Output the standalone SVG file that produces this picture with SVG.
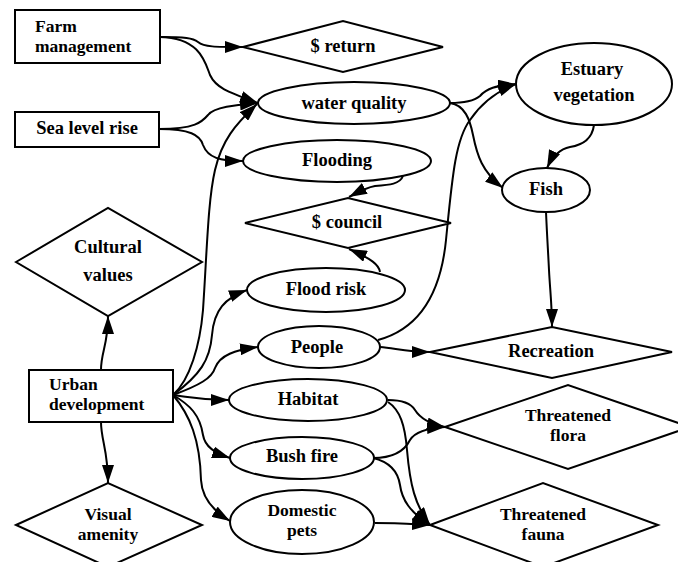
<svg xmlns="http://www.w3.org/2000/svg" width="678" height="562" viewBox="0 0 678 562">
<style>
.n{fill:#fff;stroke:#000;stroke-width:2}
.t{font-family:"Liberation Serif","Times New Roman",serif;font-weight:bold;font-size:18.5px;fill:#000}
.m{font-size:17.5px}
.c{text-anchor:middle}
.e{fill:none;stroke:#000;stroke-width:2;marker-end:url(#ah)}
</style>
<defs>
<marker id="ah" viewBox="0 0 18 12" refX="18" refY="6" markerWidth="18" markerHeight="12" markerUnits="userSpaceOnUse" orient="auto">
<path d="M0,0 L18,6 L0,12 Z" fill="#000"/>
</marker>
</defs>
<rect width="678" height="562" fill="#fff"/>
<g id="edges">
<path class="e" d="M160,37 C185,37 193,38 198,42 C204,47 215,47 243,47"/>
<path class="e" d="M160,37 C200,38 205,62 210,75 C216,88 228,92 258,103"/>
<path class="e" d="M159,129 C195,129 202,122 208,115 C214,107 235,105 258,103"/>
<path class="e" d="M159,129 C190,129 200,135 203,145 C208,158 220,161 243,161"/>
<path class="e" d="M173,395 C190,380 200,345 203,310 C207,250 208,200 215,170 C222,140 235,125 257,104"/>
<path class="e" d="M450,103 C465,103 475,100 480,96 C487,88 495,86 516,84"/>
<path class="e" d="M378,340 C415,330 440,300 446,240 C452,180 455,140 470,120 C480,105 495,92 516,84"/>
<path class="e" d="M450,103 C465,105 470,120 473,135 C477,155 482,172 503,188"/>
<path class="e" d="M594,125 C592,140 582,145 570,147 C560,149 553,155 547,168"/>
<path class="e" d="M403,176 C400,184 390,185 375,186 C368,187 360,191 349,197"/>
<path class="e" d="M380,272 C379,265 372,259 349,249"/>
<path class="e" d="M546,212 C547,235 548,250 549,270 C550,290 552,305 552,327"/>
<path class="e" d="M380,347 C395,348 405,352 430,352"/>
<path class="e" d="M101,370 C101,352 108,345 108,316"/>
<path class="e" d="M101,422 C101,440 108,450 108,483"/>
<path class="e" d="M173,395 C200,375 210,360 212,335 C214,310 225,298 247,290"/>
<path class="e" d="M173,395 C200,385 212,378 215,368 C220,355 235,350 258,347"/>
<path class="e" d="M173,395 C190,397 200,400 229,400"/>
<path class="e" d="M173,395 C190,405 200,415 203,435 C205,447 215,453 230,458"/>
<path class="e" d="M173,395 C190,415 200,440 201,480 C202,500 215,512 230,521"/>
<path class="e" d="M388,400 C405,400 412,405 415,410 C420,418 430,424 445,427"/>
<path class="e" d="M388,402 C400,410 405,425 407,450 C410,485 415,505 430,525"/>
<path class="e" d="M373,458 C395,458 405,450 410,440 C415,432 428,428 445,427"/>
<path class="e" d="M373,458 C390,462 398,472 400,485 C402,500 410,512 430,525"/>
<path class="e" d="M375,523 C395,523 410,524 430,525"/>
</g>
<g id="farm"><rect class="n" x="15" y="10" width="145" height="53"/><text class="t m" x="35" y="32">Farm</text><text class="t m" x="35" y="51.5">management</text></g>
<g id="sea"><rect class="n" x="15" y="112" width="144" height="35"/><text class="t c" x="87" y="134">Sea level rise</text></g>
<g id="return"><polygon class="n" points="243,47 343,21 443,47 343,72"/><text class="t c" x="343" y="52">$ return</text></g>
<g id="water"><ellipse class="n" cx="354" cy="103" rx="96" ry="21"/><text class="t c" x="354" y="109">water quality</text></g>
<g id="flooding"><ellipse class="n" cx="337" cy="161" rx="94" ry="21"/><text class="t c" x="337" y="166">Flooding</text></g>
<g id="council"><polygon class="n" points="245,223 348,198 451,223 348,248"/><text class="t c" x="347" y="228">$ council</text></g>
<g id="floodrisk"><ellipse class="n" cx="326" cy="290" rx="79" ry="22"/><text class="t c" x="326" y="295">Flood risk</text></g>
<g id="people"><ellipse class="n" cx="319" cy="347" rx="61" ry="21"/><text class="t c" x="317" y="353">People</text></g>
<g id="habitat"><ellipse class="n" cx="308" cy="400" rx="79" ry="21"/><text class="t c" x="308" y="405">Habitat</text></g>
<g id="bushfire"><ellipse class="n" cx="302" cy="458" rx="72" ry="21"/><text class="t c" x="302" y="462">Bush fire</text></g>
<g id="pets"><ellipse class="n" cx="302" cy="522" rx="72" ry="32"/><text class="t c m" x="302" y="516">Domestic</text><text class="t c m" x="302" y="535.5">pets</text></g>
<g id="estuary"><ellipse class="n" cx="594" cy="84" rx="78" ry="41"/><text class="t c" x="592" y="75">Estuary</text><text class="t c" x="594" y="101">vegetation</text></g>
<g id="fish"><ellipse class="n" cx="546" cy="190" rx="44" ry="22"/><text class="t c" x="546" y="195">Fish</text></g>
<g id="recreation"><polygon class="n" points="430,352 552,327 672,352 552,378"/><text class="t c" x="551" y="357">Recreation</text></g>
<g id="flora"><polygon class="n" points="445,427 568,385 690,427 568,469"/><text class="t c m" x="568" y="421">Threatened</text><text class="t c m" x="568" y="440.5">flora</text></g>
<g id="fauna"><polygon class="n" points="430,525 543,483 658,525 543,567"/><text class="t c m" x="543" y="520">Threatened</text><text class="t c m" x="543" y="539.5">fauna</text></g>
<g id="cultural"><polygon class="n" points="16,262 108,208 202,262 108,316"/><text class="t c" x="108" y="253">Cultural</text><text class="t c" x="108" y="281">values</text></g>
<g id="urban"><rect class="n" x="29" y="370" width="144" height="52"/><text class="t m" x="49" y="390">Urban</text><text class="t m" x="49" y="409.5">development</text></g>
<g id="visual"><polygon class="n" points="16,525 108,483 202,525 108,567"/><text class="t c m" x="108" y="520">Visual</text><text class="t c m" x="108" y="539.5">amenity</text></g>
</svg>
